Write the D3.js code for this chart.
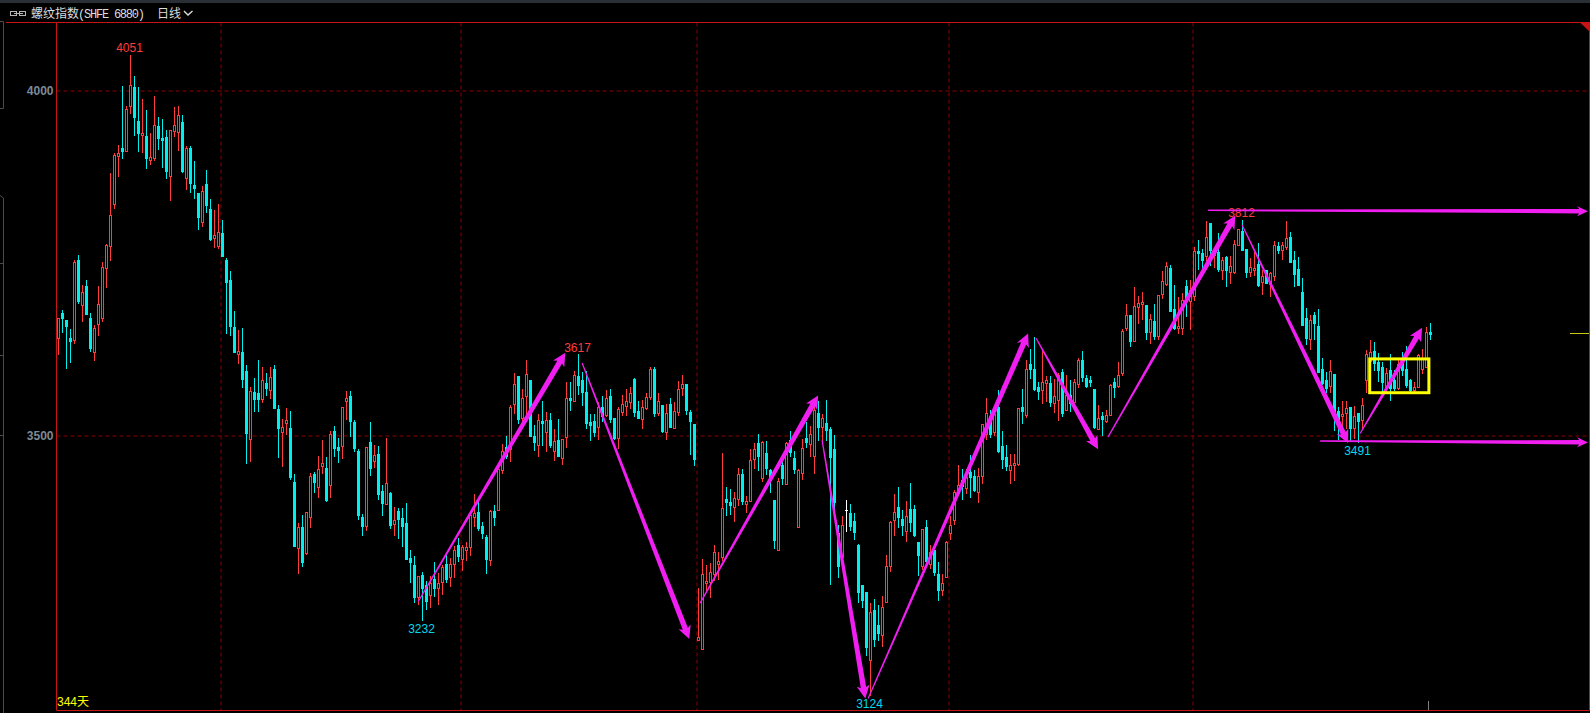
<!DOCTYPE html>
<html>
<head>
<meta charset="utf-8">
<script src="https://cdn.jsdelivr.net/npm/d3@7"></script>
<style>
    html, body { margin: 0; padding: 0; background: #000; overflow: hidden; }
    svg { display: block; }
    text { font-family: "Liberation Sans", "Noto Sans CJK SC", sans-serif; font-size: 12px; }
</style>
</head>
<body>
<div class="graph"></div>
<script>
const opens = [
    3642,3677,3667,3642,3639,3754,3689,3716,3671,3621,3662,3671,3743,3775,3836,3905,3916,3913,3977,4005,
    3956,3935,3934,3899,3902,3948,3931,3932,3876,3941,3940,3954,3873,3916,3863,3851,3809,3864,3828,3786,
    3774,3793,3754,3725,3657,3618,3621,3593,3495,3563,3561,3553,3576,3566,3596,3538,3505,3518,3511,3432,
    3337,3367,3330,3382,3444,3425,3456,3453,3428,3506,3483,3485,3550,3557,3519,3477,3382,3369,3490,3463,
    3473,3419,3401,3416,3372,3390,3380,3373,3322,3312,3266,3298,3283,3269,3292,3279,3287,3314,3295,3314,
    3341,3321,3334,3338,3382,3389,3369,3353,3319,3390,3392,3450,3483,3480,3545,3586,3525,3557,3580,3499,
    3486,3521,3505,3522,3477,3493,3467,3498,3554,3550,3586,3580,3563,3519,3521,3512,3541,3529,3557,3525,
    3496,3534,3543,3548,3582,3535,3524,3540,3556,3596,3532,3544,3505,3545,3511,3534,3569,3574,3534,3516,
    3203,3190,3286,3288,3299,3314,3324,3408,3403,3396,3408,3444,3401,3405,3466,3489,3438,3474,3450,3406,
    3334,3457,3430,3493,3467,3367,3446,3496,3488,3470,3532,3512,3518,3509,3480,3359,3324,3392,3388,3376,
    3341,3283,3273,3175,3247,3225,3211,3259,3311,3377,3396,3379,3361,3393,3393,3346,3311,3367,3314,3334,
    3299,3276,3295,3358,3377,3416,3435,3424,3447,3441,3418,3442,3502,3528,3505,3541,3485,3469,3450,3457,
    3459,3541,3530,3603,3596,3570,3566,3576,3576,3547,3551,3592,3537,3559,3548,3574,3609,3583,3580,3567,
    3509,3528,3521,3530,3577,3572,3590,3656,3674,3637,3686,3690,3689,3650,3666,3644,3705,3720,3743,3683,
    3656,3656,3716,3695,3702,3767,3764,3760,3808,3761,3766,3740,3758,3737,3737,3776,3796,3770,3737,3740,
    3748,3722,3740,3719,3731,3774,3769,3773,3787,3754,3741,3708,3670,3640,3674,3658,3596,3580,3572,3589,
    3535,3528,3532,3541,3511,3532,3522,3580,3608,3622,3606,3600,3571,3595,3580,3569,3609,3596,3580,3566,
    3571,3596,3600,3650
];
const highs = [
    3670,3682,3668,3654,3754,3761,3718,3726,3677,3660,3716,3751,3777,3880,3910,3921,4006,3977,4051,4021,
    4005,3987,3972,3938,3992,3961,3959,3943,3943,3976,3977,3964,3919,3919,3898,3851,3861,3885,3843,3827,
    3835,3812,3757,3738,3680,3653,3656,3602,3570,3583,3609,3599,3590,3599,3602,3544,3524,3540,3535,3444,
    3373,3385,3389,3445,3447,3470,3493,3469,3506,3514,3496,3541,3564,3564,3522,3480,3386,3483,3519,3486,
    3485,3428,3496,3418,3396,3395,3395,3402,3334,3325,3296,3302,3289,3296,3316,3301,3312,3328,3322,3340,
    3351,3341,3345,3385,3415,3403,3374,3356,3392,3400,3451,3487,3500,3544,3590,3586,3567,3609,3580,3515,
    3531,3550,3534,3532,3509,3524,3495,3577,3577,3593,3618,3592,3593,3531,3531,3548,3557,3566,3567,3525,
    3541,3558,3567,3570,3583,3550,3551,3561,3600,3600,3561,3544,3545,3554,3548,3579,3587,3574,3537,3516,
    3279,3321,3312,3315,3341,3331,3474,3425,3422,3418,3453,3451,3412,3480,3489,3502,3492,3492,3451,3406,
    3438,3464,3490,3506,3477,3451,3495,3519,3514,3541,3550,3531,3551,3512,3501,3370,3383,3406,3401,3388,
    3343,3283,3273,3257,3263,3254,3267,3327,3376,3415,3425,3392,3405,3431,3399,3346,3364,3377,3341,3334,
    3317,3299,3347,3383,3421,3457,3451,3451,3472,3450,3453,3517,3554,3537,3543,3566,3506,3486,3473,3473,
    3540,3567,3609,3625,3643,3577,3622,3586,3586,3582,3590,3596,3588,3580,3582,3612,3622,3588,3586,3567,
    3544,3534,3537,3574,3583,3606,3654,3690,3674,3715,3702,3708,3689,3676,3690,3703,3738,3752,3747,3718,
    3701,3706,3725,3725,3773,3783,3770,3811,3808,3769,3793,3758,3760,3760,3783,3800,3812,3770,3757,3766,
    3779,3740,3740,3737,3782,3780,3780,3811,3795,3767,3758,3728,3685,3674,3679,3683,3612,3592,3609,3589,
    3541,3550,3550,3541,3543,3532,3554,3624,3638,3635,3619,3606,3598,3618,3595,3609,3621,3629,3582,3577,
    3618,3625,3657,3663
];
const lows = [
    3618,3650,3598,3606,3634,3692,3666,3676,3622,3609,3645,3666,3715,3754,3830,3876,3902,3912,3967,3935,
    3912,3911,3887,3893,3899,3915,3889,3873,3841,3934,3914,3882,3857,3853,3844,3799,3803,3824,3783,3773,
    3772,3760,3648,3645,3621,3605,3571,3460,3463,3535,3535,3548,3559,3554,3540,3469,3456,3502,3437,3340,
    3301,3311,3328,3367,3418,3411,3445,3405,3411,3470,3461,3467,3524,3500,3477,3379,3356,3363,3443,3454,
    3408,3385,3401,3366,3356,3351,3340,3321,3287,3259,3256,3232,3248,3251,3267,3256,3270,3287,3282,3295,
    3318,3305,3319,3327,3369,3363,3351,3301,3312,3370,3392,3445,3467,3463,3532,3518,3521,3527,3500,3479,
    3470,3486,3477,3484,3464,3470,3458,3483,3537,3550,3560,3544,3511,3493,3500,3495,3521,3528,3519,3495,
    3482,3529,3529,3540,3528,3526,3511,3538,3553,3528,3529,3505,3495,3512,3511,3529,3558,3531,3473,3457,
    3203,3190,3276,3266,3290,3292,3319,3385,3386,3376,3399,3401,3389,3405,3453,3450,3434,3444,3418,3337,
    3334,3430,3430,3470,3445,3367,3437,3483,3470,3445,3493,3492,3493,3285,3392,3295,3324,3361,3363,3350,
    3259,3251,3182,3124,3195,3203,3195,3259,3303,3356,3367,3356,3347,3361,3354,3298,3306,3311,3308,3298,
    3261,3269,3295,3350,3372,3414,3408,3416,3411,3419,3403,3431,3495,3498,3501,3476,3453,3450,3431,3435,
    3457,3518,3527,3583,3566,3553,3547,3550,3543,3534,3522,3528,3537,3535,3548,3570,3579,3570,3572,3511,
    3509,3501,3519,3530,3556,3570,3588,3653,3630,3637,3663,3669,3640,3634,3640,3640,3700,3718,3680,3654,
    3648,3647,3673,3654,3696,3741,3741,3753,3747,3744,3738,3727,3716,3721,3735,3776,3769,3729,3731,3732,
    3716,3705,3721,3702,3725,3764,3756,3771,3751,3716,3718,3660,3632,3625,3640,3592,3574,3563,3563,3508,
    3495,3508,3511,3493,3496,3491,3509,3563,3601,3595,3579,3564,3564,3551,3566,3567,3587,3571,3564,3564,
    3571,3590,3600,3640
];
const closes = [
    3670,3670,3658,3637,3751,3695,3708,3676,3627,3656,3690,3744,3776,3819,3906,3909,3912,3973,4008,3961,
    3938,3938,3902,3903,3950,3931,3928,3883,3943,3950,3964,3883,3916,3866,3859,3817,3854,3834,3785,3790,
    3795,3760,3722,3658,3621,3622,3582,3503,3564,3553,3553,3580,3569,3585,3540,3511,3512,3522,3440,3340,
    3367,3316,3389,3441,3432,3451,3460,3406,3502,3482,3479,3541,3554,3521,3482,3385,3369,3483,3453,3472,
    3415,3402,3431,3370,3377,3379,3369,3321,3316,3266,3296,3279,3260,3286,3279,3286,3309,3292,3314,3334,
    3325,3338,3338,3385,3387,3366,3358,3321,3390,3382,3451,3477,3471,3541,3574,3524,3554,3589,3500,3490,
    3522,3518,3522,3486,3492,3471,3495,3554,3551,3587,3573,3563,3518,3515,3505,3541,3528,3554,3524,3496,
    3538,3545,3550,3561,3534,3526,3541,3556,3596,3532,3550,3506,3532,3512,3535,3567,3574,3537,3521,3466,
    3208,3299,3289,3302,3331,3318,3395,3403,3399,3409,3444,3405,3405,3464,3480,3470,3490,3453,3435,3348,
    3434,3438,3489,3476,3451,3450,3482,3490,3502,3537,3512,3525,3508,3469,3403,3311,3370,3392,3369,3360,
    3273,3261,3193,3244,3205,3214,3251,3311,3374,3389,3382,3370,3383,3374,3356,3327,3364,3318,3331,3302,
    3276,3286,3346,3370,3418,3428,3427,3440,3440,3421,3441,3517,3532,3502,3531,3477,3466,3456,3457,3460,
    3540,3535,3596,3596,3567,3564,3577,3580,3548,3557,3588,3532,3559,3547,3577,3609,3585,3572,3577,3512,
    3525,3524,3530,3573,3570,3588,3651,3674,3637,3687,3692,3693,3650,3669,3644,3703,3724,3745,3680,3656,
    3659,3696,3696,3711,3767,3764,3754,3787,3769,3769,3741,3754,3740,3745,3777,3800,3769,3737,3744,3743,
    3718,3731,3721,3735,3776,3769,3776,3786,3751,3734,3718,3660,3641,3667,3663,3592,3576,3569,3593,3535,
    3519,3531,3540,3511,3528,3521,3544,3618,3621,3605,3595,3577,3590,3569,3569,3603,3595,3573,3566,3570,
    3616,3611,3650,3647
];

const priceTicks = [3500, 4000];
// month boundaries, in candle units
const monthBreaks = [40.5, 100.5, 159.5, 222.5, 283.5];

// highs and lows the terminal labels
const extremeIdx = [18, 91, 130, 203, 296, 325];
const extremeVal = [4051, 3232, 3617, 3124, 3812, 3491];
const extremeUp = [true, false, true, false, true, false];

// hand drawn arrows: start candle, start price, end candle, end price
const arrows = [
    [89.9, 3259, 126.7, 3620],
    [130.9, 3605, 157.7, 3205],
    [160.4, 3257, 189.9, 3558],
    [190.9, 3493, 201.7, 3119],
    [202.4, 3119, 242.4, 3648],
    [244.4, 3641, 259.9, 3480],
    [262.4, 3498, 294.2, 3819],
    [295.9, 3805, 322.4, 3489],
    [325.4, 3503, 340.9, 3656]
];
const levels = [
    [287.4, 3826.5, 382.4, 3825],
    [315.4, 3492, 382.4, 3490]
];
const boxCandles = [327.8, 342.6];
const boxPrices = [3611, 3562];

document.addEventListener('DOMContentLoaded', () => {
    const svgDim = { w: 1590, h: 713, left: 56.5, right: 1589.5, top: 22.5, bottom: 710.5 };
    const RED = '#ff3c3c', CYAN = '#00f0f0', FRAME = '#c81414', GRID = '#8c0000', MAGENTA = '#f01ef0';

    const svg = d3.select('.graph').append('svg')
        .attr('width', svgDim.w)
        .attr('height', svgDim.h);

    const xScale = d3.scaleLinear().domain([0, 343]).range([58.5, 1430.5]);
    const yScale = d3.scaleLinear().domain([3500, 4000]).range([435.5, 90.5]);
    const py = v => Math.round(yScale(v));

    // top strip and header
    svg.append('rect').attr('width', svgDim.w).attr('height', 3).attr('fill', '#2a2f36');

    const head = svg.append('g').attr('fill', '#dcdcdc');
    head.append('text').attr('x', 31).attr('y', 18).text('螺纹指数');
    head.append('text').attr('x', 78).attr('y', 18)
        .attr('textLength', 67)
        .style('font-family', '"Liberation Mono"')
        .text('(SHFE 6880)');
    head.append('text').attr('x', 157).attr('y', 18).text('日线');
    head.append('path')
        .attr('d', 'M184 11l4 4l4.500 -4')
        .attr('fill', 'none').attr('stroke', '#dcdcdc').attr('stroke-width', 1.4);
    head.selectAll('rect.link').data([10.5, 19.5]).enter().append('rect')
        .attr('x', d => d).attr('y', 11.5).attr('width', 6).attr('height', 4)
        .attr('fill', 'none').attr('stroke', '#b4b4b4');
    head.append('path').attr('d', 'M14 13.500H23').attr('stroke', '#b4b4b4');

    // left side bracket lines of the terminal
    svg.append('path')
        .attr('d', 'M0 21.5H3.500V108.500H0M0 195.500L3.500 198V713M0 263.500H3.500M0 355.500H3.500M0 435.500H3.500')
        .attr('fill', 'none').attr('stroke', '#4a4a4a');

    // grid
    const yGrid = d3.axisRight(yScale).tickValues(priceTicks)
        .tickSize(svgDim.right - svgDim.left).tickFormat('');
    svg.append('g').attr('transform', `translate(${svgDim.left},0)`).call(yGrid)
        .call(g => g.select('.domain').remove())
        .selectAll('line').attr('stroke', GRID).attr('stroke-dasharray', '4 3');

    const xGrid = d3.axisBottom(xScale).tickValues(monthBreaks)
        .tickSize(svgDim.bottom - svgDim.top).tickFormat('');
    svg.append('g').attr('transform', `translate(0,${svgDim.top})`).call(xGrid)
        .call(g => g.select('.domain').remove())
        .selectAll('line').attr('stroke', GRID).attr('stroke-dasharray', '4 3');

    // price axis
    const yAxis = d3.axisLeft(yScale).tickValues(priceTicks).tickSize(0).tickPadding(3).tickFormat(d3.format('d'));
    svg.append('g').attr('transform', `translate(${svgDim.left},0)`).call(yAxis)
        .call(g => g.select('.domain').remove())
        .selectAll('text')
        .attr('fill', '#7d8a96')
        .style('font-family', '"Liberation Sans"')
        .style('font-size', '12px')
        .style('font-weight', 'bold');

    // frame
    svg.append('path')
        .attr('d', `M6 ${svgDim.top}H${svgDim.right}V${svgDim.bottom}H${svgDim.left}V${svgDim.top}`)
        .attr('fill', 'none').attr('stroke', FRAME);
    svg.append('path').attr('d', 'M1580 22.500L1590 32V22.500Z').attr('fill', FRAME);

    // candles
    const idx = d3.range(opens.length);
    const candleColor = i => closes[i] > opens[i] ? RED : closes[i] < opens[i] ? CYAN : '#ffffff';

    svg.append('g').selectAll('line')
        .data(idx)
        .enter()
        .append('line')
        .attr('x1', i => xScale(i))
        .attr('x2', i => xScale(i))
        .attr('y1', i => py(highs[i]))
        .attr('y2', i => py(lows[i]) + 1)
        .attr('stroke', candleColor);

    // up candles are hollow, so black shows through the wick
    svg.append('g').selectAll('rect')
        .data(idx.filter(i => closes[i] > opens[i]))
        .enter()
        .append('rect')
        .attr('x', i => xScale(i) - 1)
        .attr('y', i => py(closes[i]) + 0.5)
        .attr('width', 2)
        .attr('height', i => Math.max(1, py(opens[i]) - py(closes[i])))
        .attr('fill', '#000')
        .attr('stroke', RED);

    svg.append('g').selectAll('rect')
        .data(idx.filter(i => closes[i] < opens[i]))
        .enter()
        .append('rect')
        .attr('x', i => xScale(i) - 1.5)
        .attr('y', i => py(opens[i]))
        .attr('width', 3)
        .attr('height', i => Math.max(1, py(closes[i]) - py(opens[i])) + 1)
        .attr('fill', CYAN);

    svg.append('g').selectAll('rect')
        .data(idx.filter(i => closes[i] === opens[i]))
        .enter()
        .append('rect')
        .attr('x', i => xScale(i) - 1.5)
        .attr('y', i => py(opens[i]))
        .attr('width', 3)
        .attr('height', 1)
        .attr('fill', '#ffffff');

    // high / low labels
    svg.append('g').selectAll('text')
        .data(extremeIdx)
        .enter()
        .append('text')
        .attr('x', d => xScale(d) - 1)
        .attr('y', (d, i) => {
            if (extremeUp[i]) return yScale(extremeVal[i]) - 3;
            return Math.min(yScale(extremeVal[i]) + 13, 708);
        })
        .attr('text-anchor', 'middle')
        .attr('fill', (d, i) => extremeUp[i] ? RED : '#00d8f0')
        .text((d, i) => extremeVal[i]);

    // tapered arrows, thin at the start and fat at the head
    function taperPath(a, w0, w1, headLen, headHalf) {
        const x0 = xScale(a[0]), y0 = yScale(a[1]), x1 = xScale(a[2]), y1 = yScale(a[3]);
        const len = Math.hypot(x1 - x0, y1 - y0);
        const ux = (x1 - x0) / len, uy = (y1 - y0) / len;
        const nx = -uy, ny = ux;
        const bx = x1 - ux * headLen, by = y1 - uy * headLen;
        const p = d3.path();
        p.moveTo(x0 + nx * w0 / 2, y0 + ny * w0 / 2);
        p.lineTo(bx + nx * w1 / 2, by + ny * w1 / 2);
        p.lineTo(bx + nx * headHalf - ux * 2, by + ny * headHalf - uy * 2);
        p.lineTo(x1, y1);
        p.lineTo(bx - nx * headHalf - ux * 2, by - ny * headHalf - uy * 2);
        p.lineTo(bx - nx * w1 / 2, by - ny * w1 / 2);
        p.lineTo(x0 - nx * w0 / 2, y0 - ny * w0 / 2);
        p.closePath();
        return p.toString();
    }

    svg.append('g').selectAll('path')
        .data(arrows)
        .enter()
        .append('path')
        .attr('d', d => taperPath(d, 1.2, 5.5, 11, 6.5))
        .attr('fill', MAGENTA);

    svg.append('g').selectAll('path')
        .data(levels)
        .enter()
        .append('path')
        .attr('d', d => taperPath(d, 1.5, 4.5, 9, 5))
        .attr('fill', MAGENTA);

    // yellow box
    svg.append('rect')
        .attr('x', xScale(boxCandles[0]))
        .attr('y', yScale(boxPrices[0]))
        .attr('width', xScale(boxCandles[1]) - xScale(boxCandles[0]))
        .attr('height', yScale(boxPrices[1]) - yScale(boxPrices[0]))
        .attr('fill', 'none')
        .attr('stroke', '#ffff00')
        .attr('stroke-width', 3);

    // last price mark and last bar tick
    const lastClose = closes[closes.length - 1];
    svg.append('line')
        .attr('x1', 1570).attr('x2', 1589)
        .attr('y1', py(lastClose) - 0.5).attr('y2', py(lastClose) - 0.5)
        .attr('stroke', '#c8c814');
    svg.append('line')
        .attr('x1', xScale(342.5)).attr('x2', xScale(342.5))
        .attr('y1', 701).attr('y2', 710)
        .attr('stroke', '#808080');

    svg.append('text')
        .attr('x', 57).attr('y', 706)
        .attr('fill', '#ffff00')
        .text(`${opens.length}天`);
});
</script>
</body>
</html>
